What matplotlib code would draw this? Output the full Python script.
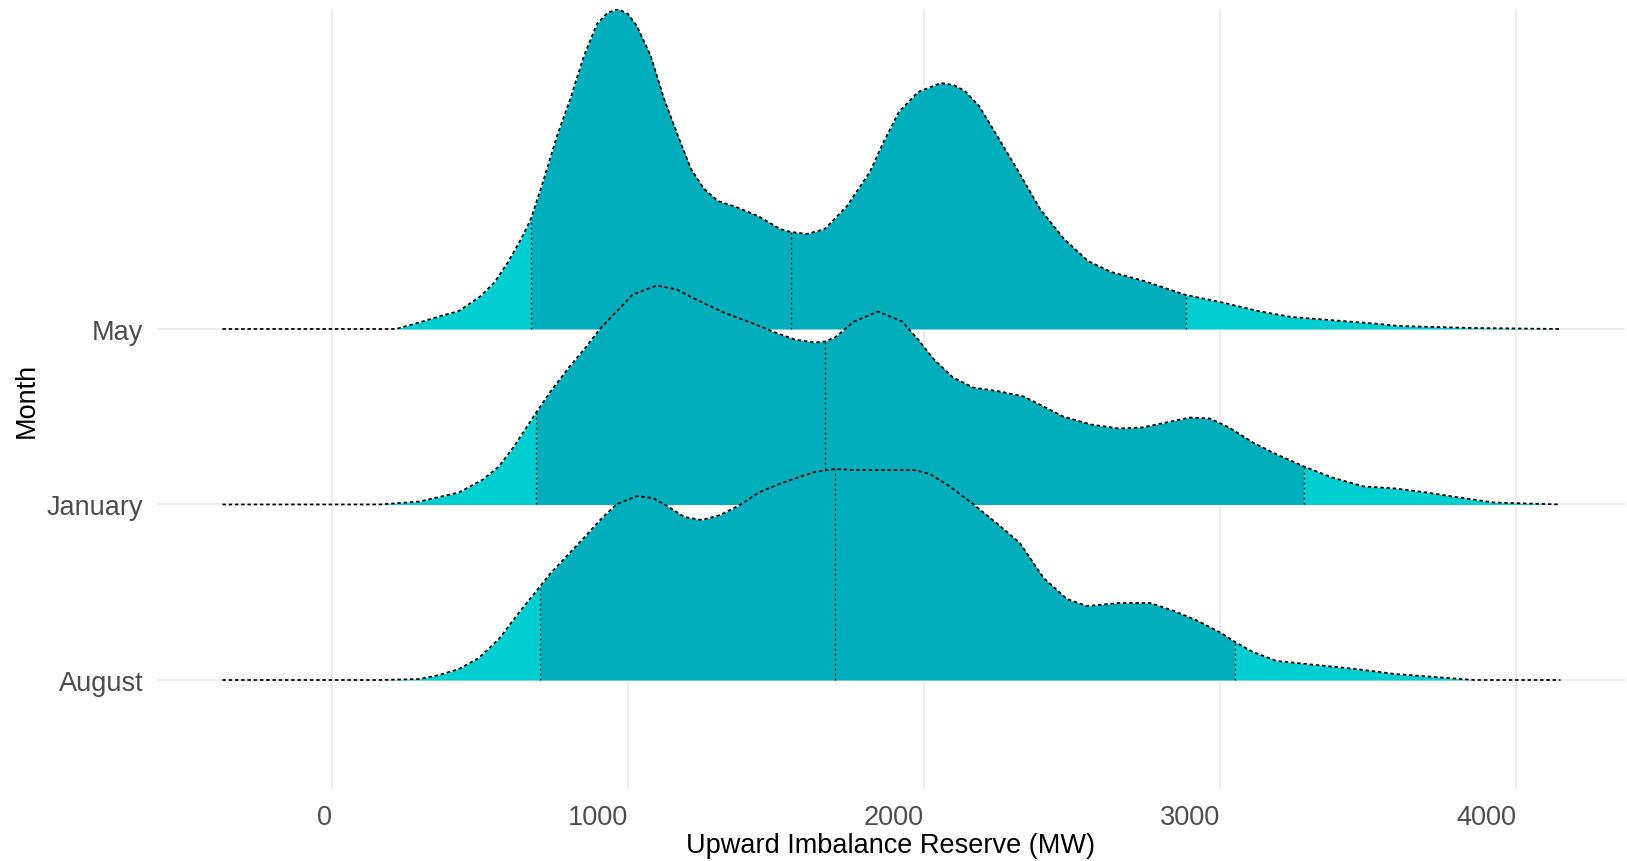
import numpy as np
import matplotlib
matplotlib.use("Agg")
import matplotlib.pyplot as plt

plt.rcParams['font.family'] = ['Liberation Sans', 'DejaVu Sans']

# months from bottom to top
months = ["August", "January", "May"]

# density estimates (arbitrary units, same scale for all months)
may_x = [-370, 216, 277, 368, 429, 503, 550, 595, 639, 672, 716, 760, 805, 851, 895, 930, 966,
         1000, 1030, 1077, 1122, 1169, 1213, 1257, 1304, 1365, 1439, 1514, 1550, 1605, 1665, 1740,
         1817, 1860, 1915, 1980, 2057, 2100, 2138, 2186, 2233, 2314, 2392, 2473, 2554, 2632, 2743,
         2885, 3000, 3128, 3240, 3412, 3540, 3604, 3845, 4150]
may_dens = [0, 0, 5, 13, 18, 33, 47, 67, 90, 110, 150, 193, 230, 273, 305, 316, 320,
            315, 303, 273, 230, 193, 160, 140, 128, 122, 113, 100, 97, 95, 100, 123,
            157, 185, 217, 237, 246, 244, 238, 223, 200, 160, 120, 90, 68, 57, 48,
            34, 27, 18, 12, 8, 5, 3, 1, 0]

jan_x = [-370, 162, 296, 429, 510, 564, 615, 690, 736, 803, 857, 909, 962, 1016, 1097, 1165,
         1230, 1324, 1432, 1497, 1564, 1631, 1665, 1699, 1764, 1845, 1926, 1980, 2034, 2098, 2166,
         2257, 2337, 2404, 2470, 2564, 2659, 2737, 2818, 2898, 2965, 3031, 3111, 3192, 3284, 3378,
         3486, 3592, 3699, 3807, 3926, 4150]
jan_dens = [0, 0, 3, 12, 25, 38, 58, 92, 112, 138, 157, 177, 193, 210, 219, 215,
            205, 192, 180, 172, 165, 162, 163, 167, 183, 193, 183, 165, 145, 127, 117,
            113, 108, 98, 88, 80, 76, 77, 82, 87, 86, 77, 62, 50, 38, 27,
            18, 16, 12, 7, 2, 0]

aug_x = [-370, 162, 296, 362, 429, 496, 564, 628, 704, 736, 803, 857, 909, 962, 1030, 1084,
         1138, 1191, 1250, 1311, 1378, 1445, 1511, 1578, 1631, 1698, 1765, 1966, 2020, 2085, 2166,
         2257, 2324, 2404, 2483, 2551, 2657, 2764, 2845, 2926, 3004, 3051, 3111, 3192, 3325, 3459,
         3592, 3726, 3860, 4150]
aug_dens = [0, 0, 1, 5, 11, 22, 41, 66, 94, 106, 127, 144, 161, 176, 184, 182,
            173, 163, 160, 165, 175, 188, 196, 203, 208, 211, 210, 210, 206, 194, 176,
            154, 137, 102, 81, 74, 77, 77, 69, 59, 47, 38, 28, 19, 15, 11,
            6, 3, 0, 0]

# 5%, 50%, 95% quantiles
may_q = [672, 1550, 2885]
jan_q = [690, 1665, 3284]
aug_q = [704, 1698, 3051]

xticks = [0, 1000, 2000, 3000, 4000]

ridges = [(aug_x, aug_dens, aug_q), (jan_x, jan_dens, jan_q), (may_x, may_dens, may_q)]

tail_col = "#00CED1"
mid_col = "#00AFBB"
scale = 1.823  # tallest ridge height in row units

fig = plt.figure(figsize=(16.27, 8.62), dpi=100)
ax = fig.add_axes([157 / 1627, 1 - 790 / 862, 1468 / 1627, 780 / 862])

peak = max(max(d) for _, d, _ in ridges)

# draw top row first so lower rows overlap it
for row in [2, 1, 0]:
    xs, dens, q = ridges[row]
    xs = np.array(xs, dtype=float)
    h = np.array(dens, dtype=float) / peak * scale
    base = row + 1
    y = base + h
    z = 10 - row * 2
    ax.fill_between(xs, base, y, where=xs <= q[0], color=tail_col, lw=0, zorder=z)
    ax.fill_between(xs, base, y, where=(xs >= q[0]) & (xs <= q[2]), color=mid_col, lw=0, zorder=z)
    ax.fill_between(xs, base, y, where=xs >= q[2], color=tail_col, lw=0, zorder=z)
    ax.plot(xs, y, color="black", lw=1.25, linestyle=(0, (2.0, 1.6)), zorder=z + 0.5)
    for qv in q:
        ax.plot([qv, qv], [base, base + np.interp(qv, xs, h)], color="black", lw=0.9,
                linestyle=(0, (1.4, 2.6)), zorder=z + 0.5)

ax.set_xlim(-591, 4368)
ax.set_ylim(0.379, 4.823)
ax.set_xticks(xticks)
ax.set_xticklabels([str(t) for t in xticks], ha="right")
ax.set_yticks([1, 2, 3])
ax.set_yticklabels(months)
ax.grid(True, color="#EBEBEB", lw=1.3, zorder=0)
ax.set_axisbelow(True)
for s in ax.spines.values():
    s.set_visible(False)
ax.tick_params(length=0, labelsize=19.5, colors="#4D4D4D", pad=11)
ax.tick_params(axis="y", pad=10)

ax.set_xlabel("Upward Imbalance Reserve (MW)", fontsize=19.5, va="center")
ax.xaxis.set_label_coords(0.5, -0.072)
ax.set_ylabel("Month", fontsize=19.5, va="center")
ax.yaxis.set_label_coords(-0.089, 0.5)

fig.savefig("out.png", dpi=100)
